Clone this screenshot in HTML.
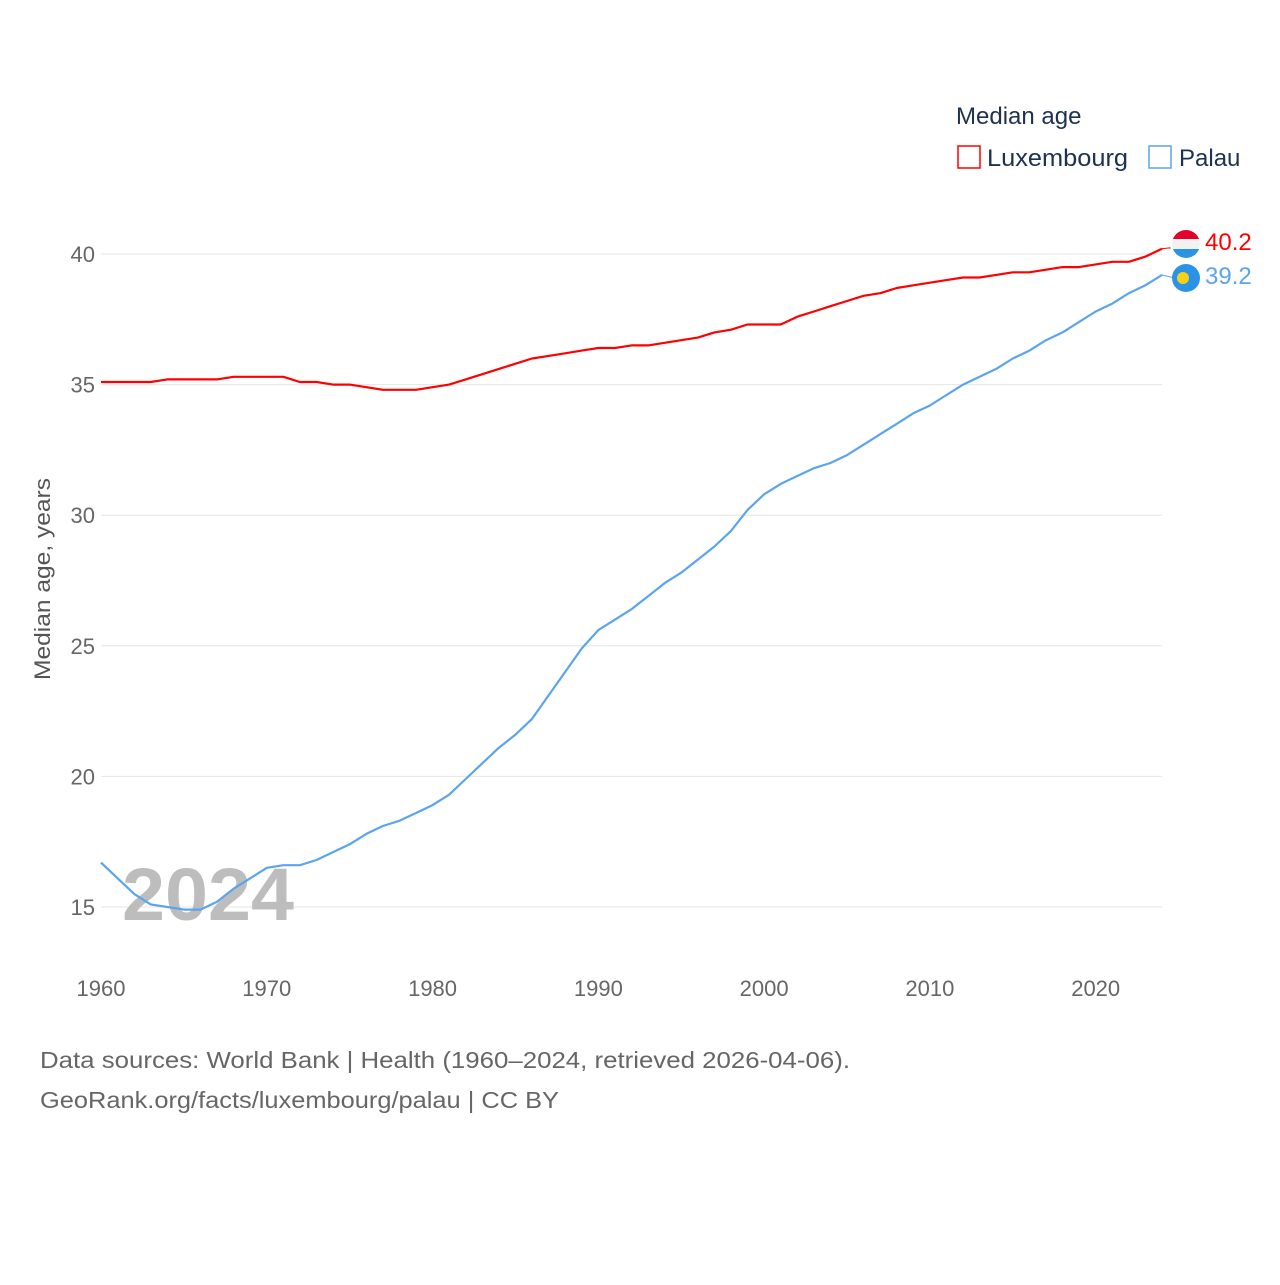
<!DOCTYPE html>
<html><head><meta charset="utf-8"><style>
body{margin:0;background:#fff;font-family:"Liberation Sans",sans-serif}
svg text{font-family:"Liberation Sans",sans-serif}
</style></head><body>
<svg width="1280" height="1280" viewBox="0 0 1280 1280">
<text x="956" y="124" font-size="24" fill="#1d3150">Median age</text>
<g><rect x="958" y="146" width="22" height="22" fill="none" stroke="#f00" stroke-width="1.5"/><text x="987" y="166" font-size="24" fill="#1d3150" textLength="141" lengthAdjust="spacingAndGlyphs">Luxembourg</text></g>
<g><rect x="1149" y="146" width="22" height="22" fill="none" stroke="#5ba4ee" stroke-width="1.5"/><text x="1179" y="166" font-size="24" fill="#1d3150">Palau</text></g>
<g id="grid"></g><g id="yt"></g><g id="xt"></g>
<text x="122" y="920" font-size="74" font-weight="bold" fill="#bdbdbd" textLength="172" lengthAdjust="spacingAndGlyphs">2024</text>
<g id="lines"></g>
<text transform="translate(50,579) rotate(-90)" font-size="22" fill="#555" text-anchor="middle" textLength="202" lengthAdjust="spacingAndGlyphs">Median age, years</text>
<text x="40" y="1068" font-size="23" fill="#666" textLength="810" lengthAdjust="spacingAndGlyphs">Data sources: World Bank | Health (1960–2024, retrieved 2026-04-06).</text>
<text x="40" y="1108" font-size="23" fill="#666" textLength="519" lengthAdjust="spacingAndGlyphs">GeoRank.org/facts/luxembourg/palau | CC BY</text>
</svg>
<script>
const years=[];for(let y=1960;y<=2024;y++)years.push(y);
const luxembourg=[35.1,35.1,35.1,35.1,35.2,35.2,35.2,35.2,35.3,35.3,35.3,35.3,35.1,35.1,35.0,35.0,34.9,34.8,34.8,34.8,34.9,35.0,35.2,35.4,35.6,35.8,36.0,36.1,36.2,36.3,36.4,36.4,36.5,36.5,36.6,36.7,36.8,37.0,37.1,37.3,37.3,37.3,37.6,37.8,38.0,38.2,38.4,38.5,38.7,38.8,38.9,39.0,39.1,39.1,39.2,39.3,39.3,39.4,39.5,39.5,39.6,39.7,39.7,39.9,40.2];
const palau=[16.7,16.1,15.5,15.1,15.0,14.9,14.9,15.2,15.7,16.1,16.5,16.6,16.6,16.8,17.1,17.4,17.8,18.1,18.3,18.6,18.9,19.3,19.9,20.5,21.1,21.6,22.2,23.1,24.0,24.9,25.6,26.0,26.4,26.9,27.4,27.8,28.3,28.8,29.4,30.2,30.8,31.2,31.5,31.8,32.0,32.3,32.7,33.1,33.5,33.9,34.2,34.6,35.0,35.3,35.6,36.0,36.3,36.7,37.0,37.4,37.8,38.1,38.5,38.8,39.2];
const yTicks=[15,20,25,30,35,40];
const xTicks=[1960,1970,1980,1990,2000,2010,2020];
const X=y=>101+(y-1960)*(1162-101)/64;
const Y=v=>907-(v-15)*(907-254)/25;
const NS="http://www.w3.org/2000/svg";
function mk(tag,attrs,parent,txt){const e=document.createElementNS(NS,tag);for(const k in attrs)e.setAttribute(k,attrs[k]);if(txt!=null)e.textContent=txt;document.getElementById(parent)?document.getElementById(parent).appendChild(e):parent.appendChild(e);return e;}
yTicks.forEach(t=>{
 const l=mk('line',{x1:101,x2:1162,y1:Y(t),y2:Y(t),stroke:'#e6e6e6','stroke-width':1},'grid');
 
 
 const tx=mk('text',{x:95,y:Y(t)+8,'font-size':22,fill:'#666','text-anchor':'end'},'yt',t);
 
 
});
xTicks.forEach(t=>{
 const tx=mk('text',{x:X(t),y:996,'font-size':22,fill:'#666','text-anchor':'middle'},'xt',t);
 
 
});
function line(data,color,name){
 const d=data.map((v,i)=>(i?'L':'M')+X(years[i]).toFixed(1)+','+Y(v).toFixed(1)).join('');
 const p=mk('path',{d:d,fill:'none',stroke:color,'stroke-width':2.2,'stroke-linejoin':'round'},'lines');
 
 
}
line(luxembourg,'#f00','line-luxembourg');
line(palau,'#5ba4ee','line-palau');
const g=document.getElementById('lines');
const lv=luxembourg[64],pv=palau[64];
const lx=X(2024),ly=Y(lv),py=Y(pv);
mk('path',{d:`M${lx},${ly}L1170,${ly-1}L1170,${ly}`,stroke:'#f00',fill:'none','stroke-width':1},g);
mk('path',{d:`M${lx},${py}L1174,${py+3}`,stroke:'#5ba4ee',fill:'none','stroke-width':1},g);
const fl=mk('g',{},g);


mk('clipPath',{id:'c1'},fl);mk('circle',{cx:1186,cy:244,r:14},document.getElementById('c1'));
const fg=mk('g',{'clip-path':'url(#c1)'},fl);
mk('rect',{x:1170,y:229,width:32,height:10,fill:'#e4002b'},fg);
mk('rect',{x:1170,y:239,width:32,height:10,fill:'#f2f2f2'},fg);
mk('rect',{x:1170,y:249,width:32,height:10,fill:'#2a93e6'},fg);
const fp=mk('g',{},g);


mk('circle',{cx:1186,cy:278,r:14,fill:'#2a93e6'},fp);
mk('circle',{cx:1183,cy:278,r:6,fill:'#f7d116'},fp);
const t1=mk('text',{x:1205,y:250,'font-size':24,fill:'#f00'},g,lv.toFixed(1));


const t2=mk('text',{x:1205,y:284,'font-size':24,fill:'#5ba4ee'},g,pv.toFixed(1));


</script>
</body></html>
